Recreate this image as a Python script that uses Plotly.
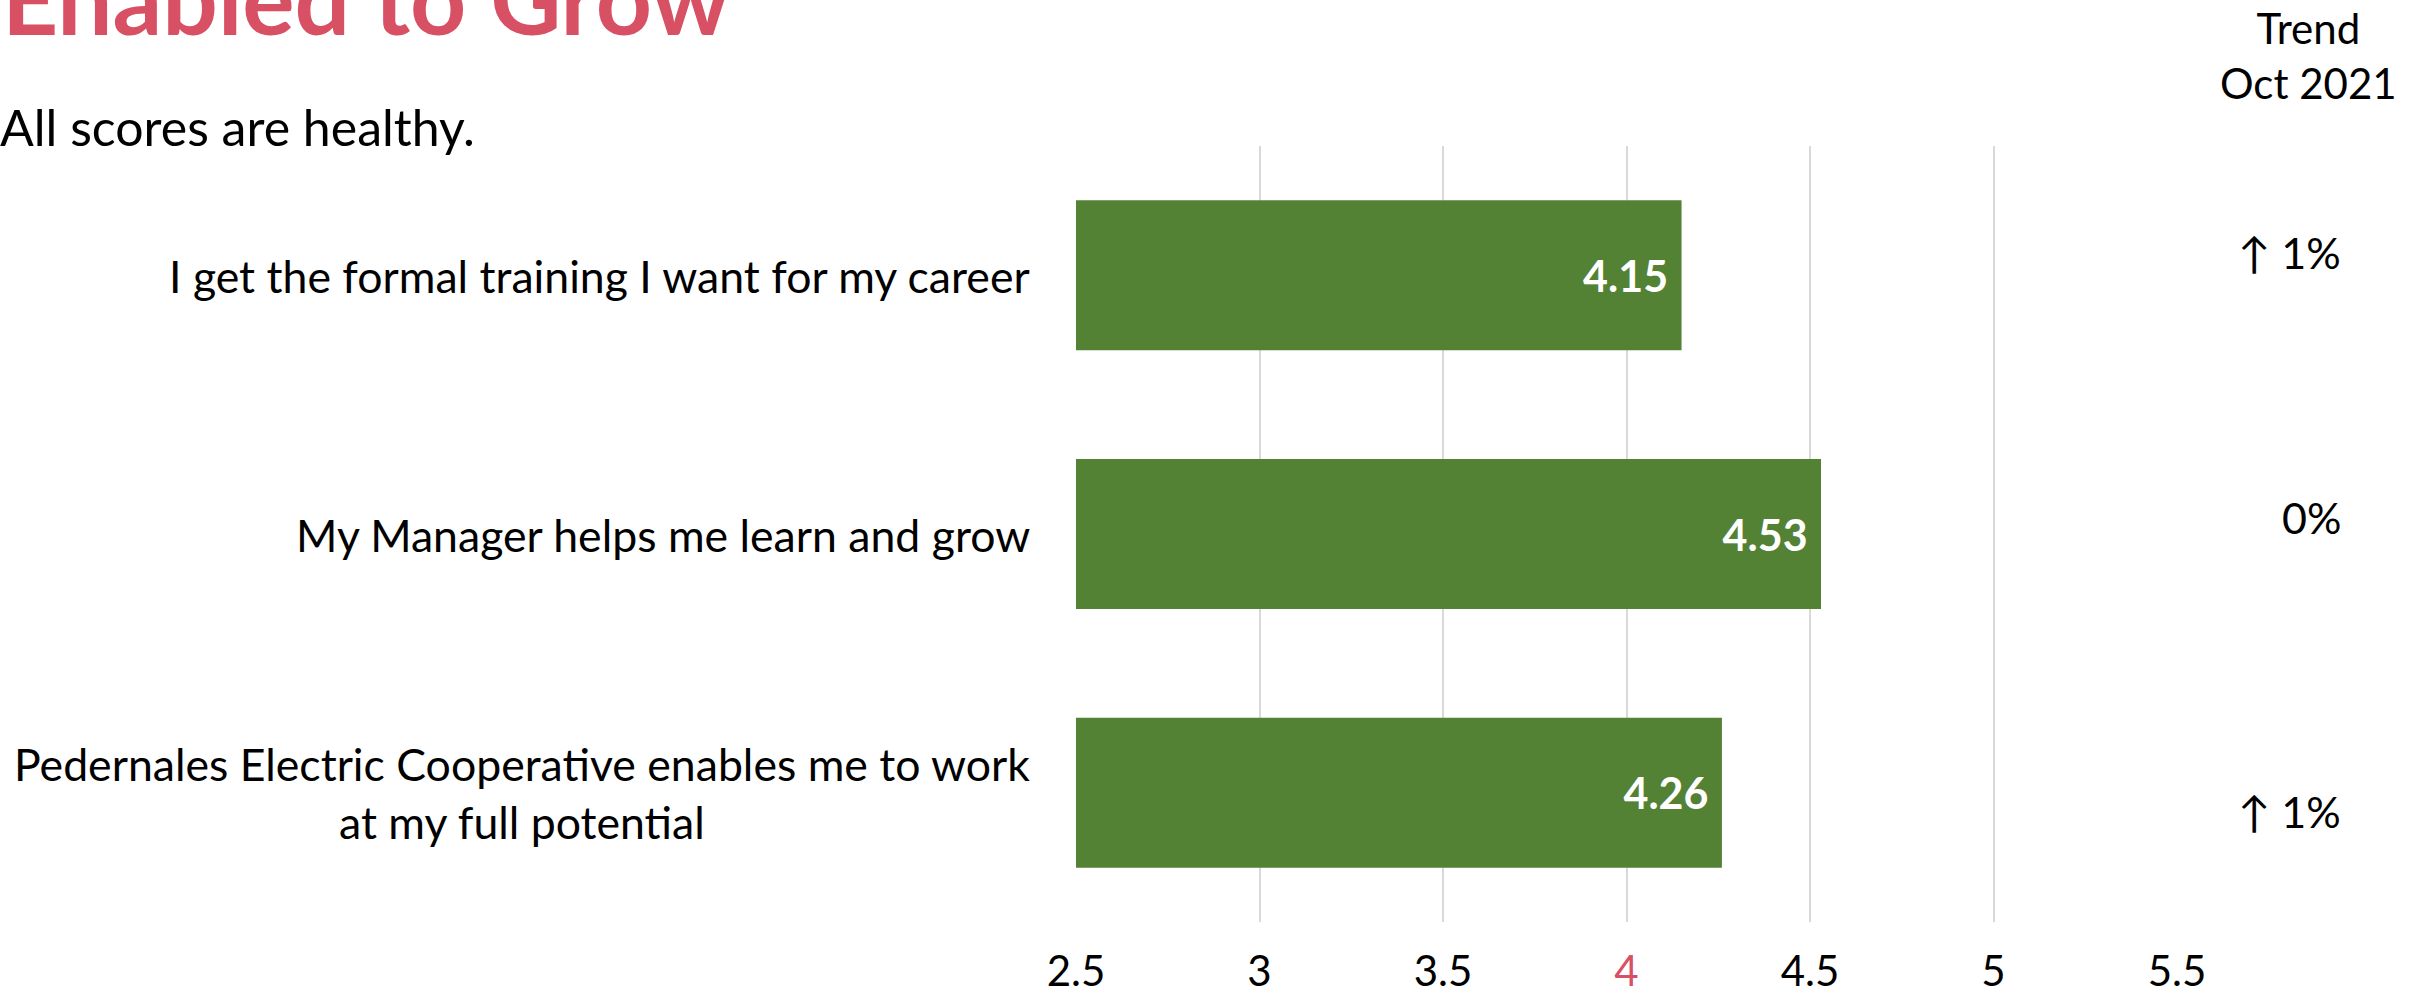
import plotly.graph_objects as go

# ---- data ----
categories = [
    "I get the formal training I want for my career",
    "My Manager helps me learn and grow",
    "Pedernales Electric Cooperative enables me to work<br>at my full potential",
]
scores = [4.15, 4.53, 4.26]
trend_labels = ["\u2191 1%", "0%", "\u2191 1%"]
x_tick_values = [2.5, 3, 3.5, 4, 4.5, 5, 5.5]
x_tick_labels = ["2.5", "3", "3.5", "4", "4.5", "5", "5.5"]
highlight_tick = "4"
title_text = "Enabled to Grow"
subtitle_text = "All scores are healthy."
trend_header = "Trend<br>Oct 2021"

# ---- styles ----
FONT = "Lato, 'Open Sans', sans-serif"
GREEN = "#548235"
RED = "#D75063"
W, H = 2418, 999
L, R, T, B = 1076, 241, 146, 77

tick_text = [
    f'<span style="color:{RED}">{t}</span>' if t == highlight_tick else t
    for t in x_tick_labels
]

fig = go.Figure()
fig.add_trace(go.Bar(
    y=categories,
    x=scores,
    orientation="h",
    marker=dict(color=GREEN, line=dict(width=0)),
    text=[f"{v:.2f}\u00a0" for v in scores],
    textposition="inside",
    insidetextanchor="end",
    textfont=dict(family=FONT, size=43, color="white", weight="bold"),
    constraintext="none",
    hoverinfo="skip",
))

annotations = []
# category labels (centered multi-line, right-anchored next to axis)
for c in categories:
    annotations.append(dict(
        xref="paper", yref="y", x=0, y=c, xshift=-44,
        xanchor="right", yanchor="middle", align="center",
        text=c, showarrow=False,
        font=dict(family=FONT, size=44.6, color="black"),
    ))
# trend values
trend_shifts = [23, 17, -19]
for c, t, s in zip(categories, trend_labels, trend_shifts):
    annotations.append(dict(
        xref="paper", yref="y", x=1, y=c, xshift=166, yshift=s,
        xanchor="right", yanchor="middle", align="right",
        text=t, showarrow=False,
        font=dict(family=FONT, size=43, color="black"),
    ))
# trend header
annotations.append(dict(
    xref="paper", yref="paper", x=1, y=1, xshift=131, yshift=91,
    xanchor="center", yanchor="middle", align="center",
    text=trend_header, showarrow=False,
    font=dict(family=FONT, size=42, color="black"),
))
# title (cut off at the top, as in the reference)
annotations.append(dict(
    xref="paper", yref="paper", x=0, y=1, xshift=-L, yshift=149,
    xanchor="left", yanchor="middle", align="left",
    text=f"<b>{title_text}</b>", showarrow=False,
    font=dict(family=FONT, size=98, color=RED),
))
# subtitle
annotations.append(dict(
    xref="paper", yref="paper", x=0, y=1, xshift=-L - 2, yshift=19,
    xanchor="left", yanchor="middle", align="left",
    text=subtitle_text, showarrow=False,
    font=dict(family=FONT, size=50, color="black"),
))

fig.update_layout(
    width=W, height=H,
    margin=dict(l=L, r=R, t=T, b=B, pad=0, autoexpand=False),
    paper_bgcolor="white", plot_bgcolor="white",
    bargap=0.42,
    showlegend=False,
    annotations=annotations,
    font=dict(family=FONT, color="black"),
)
fig.update_xaxes(
    range=[2.5, 5.5],
    tickvals=x_tick_values, ticktext=tick_text,
    showgrid=True, gridcolor="#D9D9D9", gridwidth=2,
    zeroline=False, showline=False, ticks="",
    tickfont=dict(family=FONT, size=42, color="black"),
    ticklabelstandoff=21,
    automargin=False,
    fixedrange=True,
)
fig.update_yaxes(
    categoryorder="array", categoryarray=categories,
    autorange="reversed",
    showticklabels=False, showgrid=False, zeroline=False, showline=False,
    automargin=False,
    fixedrange=True,
)

fig.write_html(
    "out.html",
    config={"displayModeBar": False},
    post_script="document.body.style.margin='0';document.body.style.overflow='hidden';",
)
